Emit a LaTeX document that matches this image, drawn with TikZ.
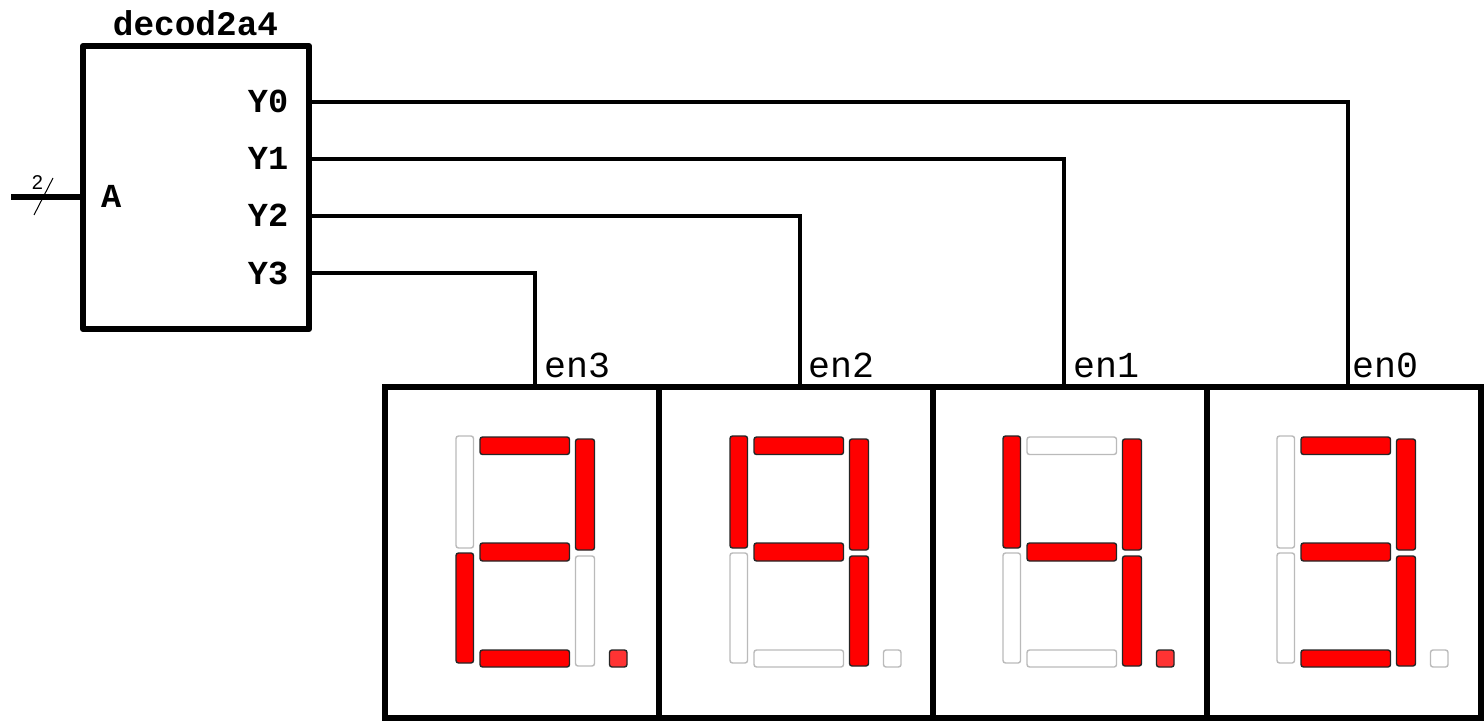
\documentclass[tikz,border=0pt]{standalone}
\usepackage{fontspec}
\setmainfont{Liberation Sans}
\newfontfamily\monof{Liberation Mono}
\tikzset{
  blockbox/.style={draw=black,line width=6pt,fill=white,rectangle,inner sep=0pt,outer sep=0pt,line join=round},
  dispbox/.style={draw=black,line width=6pt,fill=white,rectangle,inner sep=0pt,outer sep=0pt,minimum width=274.3pt,minimum height=331pt,line join=miter},
  wire/.style={draw=black,line width=4pt,line join=miter},
  bus/.style={draw=black,line width=6.5pt},
  pinlabel/.style={font=\monof\bfseries\fontsize{33.6}{33.6}\selectfont,inner sep=0pt,text=black},
  enlabel/.style={font=\monof\fontsize{36.6}{36.6}\selectfont,inner sep=0pt,text=black,anchor=base west},
  segon/.style={draw=black!85,fill=red,line width=1.4pt,rounded corners=2.5pt},
  segoff/.style={draw=black!27,fill=white,line width=1.4pt,rounded corners=2.5pt},
  doton/.style={draw=black!85,fill=red!80!white,line width=1.4pt,rounded corners=2.5pt},
}
% #1 x offset; then style of top, upper right, middle, upper left, lower left, lower right, bottom, dot
\newcommand{\digitsegs}[9]{%
  \begin{scope}[xshift=#1pt]
    \draw[#2] (480,437) rectangle (569.5,454.5);
    \draw[#3] (575.5,439) rectangle (594.5,550);
    \draw[#4] (480,543) rectangle (569.5,561);
    \draw[#5] (456,436) rectangle (473.5,548);
    \draw[#6] (456,553) rectangle (473.5,663);
    \draw[#7] (575.5,556) rectangle (594.5,666);
    \draw[#8] (480,650) rectangle (569.5,667);
    \draw[#9] (609.5,650) rectangle (627,667);
  \end{scope}}
\begin{document}
\begin{tikzpicture}[x=1pt,y=-1pt]
\useasboundingbox (0,0) rectangle (1484,722);
\fill[white] (0,0) rectangle (1484,722);

% decoder block
\node[blockbox,minimum width=226pt,minimum height=283pt] (dec) at (196,187.5) {};
\node[font=\monof\bfseries\fontsize{34.4}{34.4}\selectfont,inner sep=0pt,anchor=base] (title) at (195.5,36) {decod2a4};
\node[pinlabel,anchor=base east] (ly0) at (288.5,113) {Y0};
\node[pinlabel,anchor=base east] (ly1) at (288.5,170) {Y1};
\node[pinlabel,anchor=base east] (ly2) at (288.5,227) {Y2};
\node[pinlabel,anchor=base east] (ly3) at (288.5,284) {Y3};
\node[pinlabel,anchor=base west] (la) at (101,208) {A};

% input bus
\coordinate (busin) at (11,197);
\coordinate (busout) at (dec.west |- busin);
\draw[bus] (busin) -- (busout);
\coordinate (slasha) at (34,215);
\coordinate (slashb) at (53,178);
\draw[black,line width=1pt] (slasha) -- (slashb);
\node[font=\fontsize{20}{20}\selectfont,inner sep=0pt,anchor=base] (lwidth) at (37.5,190) {2};

% display frames
\node[dispbox,anchor=north west] (d3) at (385,386.7) {};
\node[dispbox,anchor=north west] (d2) at (659.3,386.7) {};
\node[dispbox,anchor=north west] (d1) at (932.9,386.7) {};
\node[dispbox,anchor=north west] (d0) at (1206.5,386.7) {};

% wires
\coordinate (y0) at (dec.east |- 0,102.3);
\coordinate (y1) at (dec.east |- 0,159);
\coordinate (y2) at (dec.east |- 0,216);
\coordinate (y3) at (dec.east |- 0,273);
\coordinate (en0) at (1348,386.7);
\coordinate (en1) at (1064,386.7);
\coordinate (en2) at (800,386.7);
\coordinate (en3) at (535,386.7);
\draw[wire] (y0) -| (en0);
\draw[wire] (y1) -| (en1);
\draw[wire] (y2) -| (en2);
\draw[wire] (y3) -| (en3);

\node[enlabel] (len3) at (544,377) {en3};
\node[enlabel] (len2) at (808,377) {en2};
\node[enlabel] (len1) at (1073,377) {en1};
\node[enlabel] (len0) at (1352,377) {en0};

% segments
\digitsegs{0}{segon}{segon}{segon}{segoff}{segon}{segoff}{segon}{doton}
\digitsegs{274}{segon}{segon}{segon}{segon}{segoff}{segon}{segoff}{segoff}
\digitsegs{547}{segoff}{segon}{segon}{segon}{segoff}{segon}{segoff}{doton}
\digitsegs{821}{segon}{segon}{segon}{segoff}{segoff}{segon}{segon}{segoff}
\end{tikzpicture}
\end{document}
